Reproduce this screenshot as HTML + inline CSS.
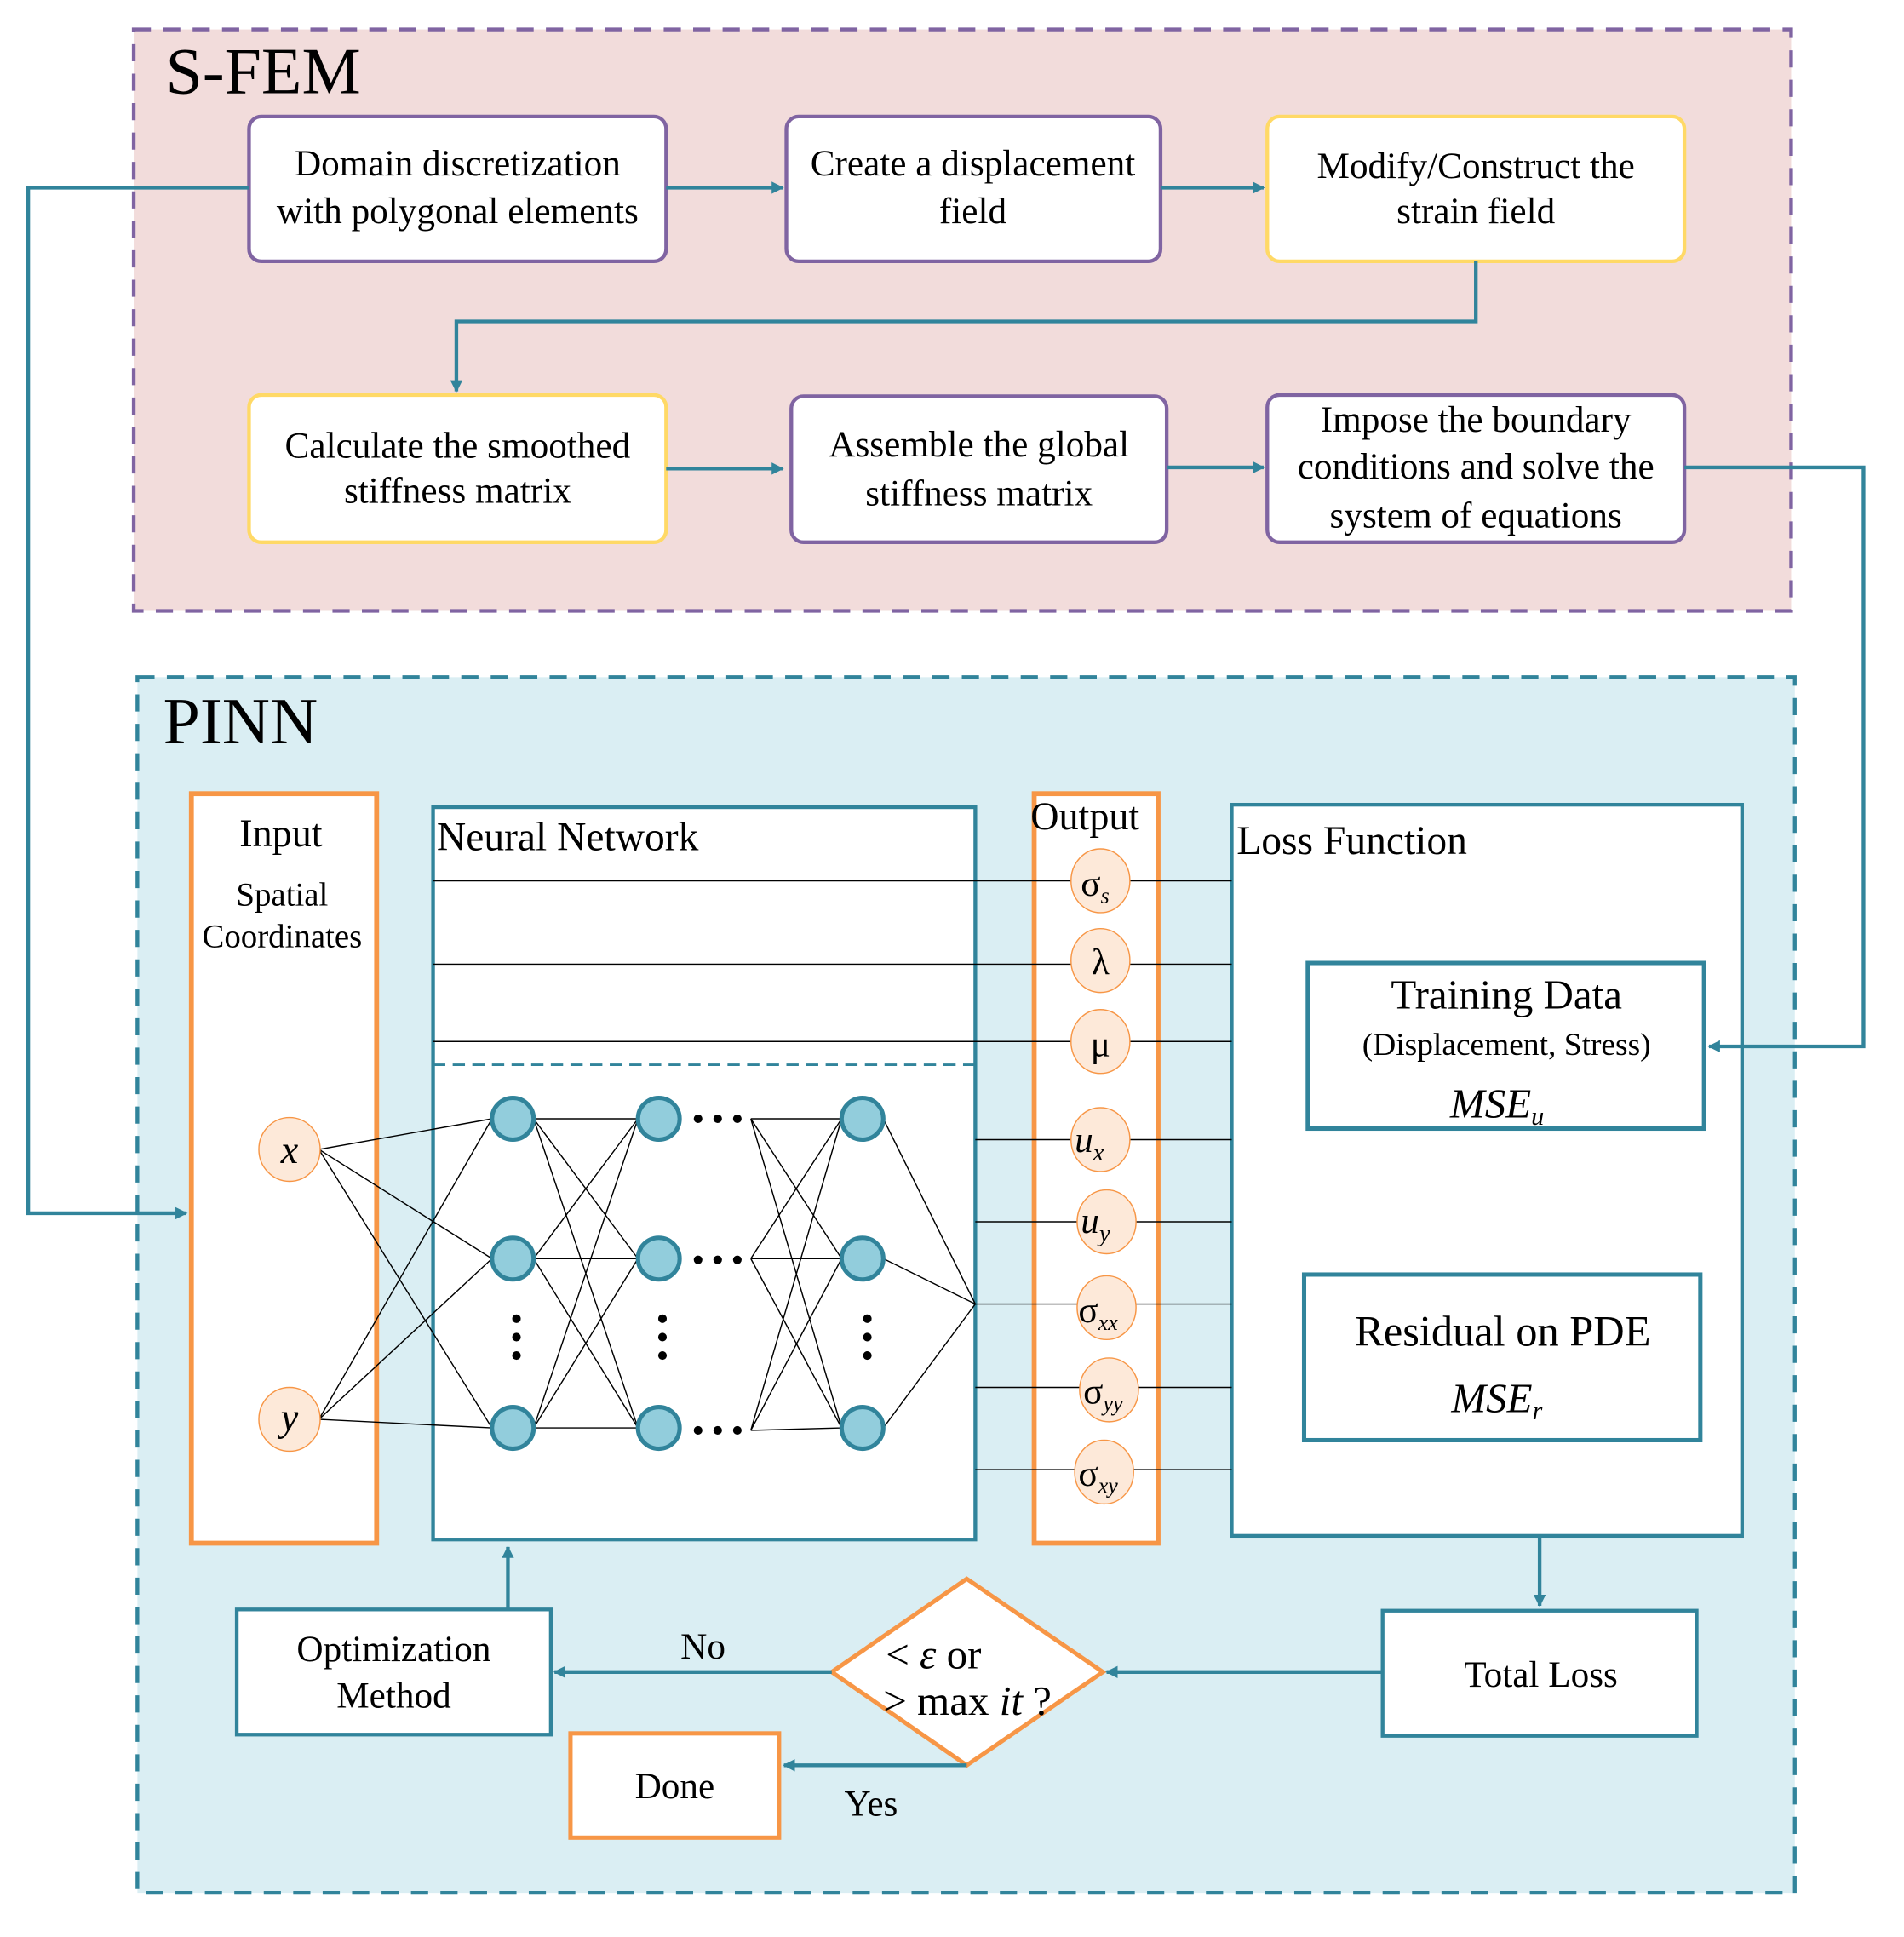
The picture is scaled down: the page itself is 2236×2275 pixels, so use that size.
<!DOCTYPE html>
<html><head><meta charset="utf-8"><style>html,body{margin:0;padding:0;background:#fff}svg{display:block}text{font-family:"Liberation Serif",serif;fill:#000}</style></head><body>
<svg width="2236" height="2275" viewBox="0 0 1552 1579" preserveAspectRatio="none" xmlns="http://www.w3.org/2000/svg">
<defs>
<marker id="a" markerWidth="10" markerHeight="10" refX="9" refY="5" orient="auto" markerUnits="userSpaceOnUse" viewBox="0 0 10 10"><path d="M0,0 L10,5 L0,10 Z" fill="#31849B"/></marker>
</defs>
<!-- S-FEM -->
<rect x="109" y="24" width="1351" height="474" fill="#F2DCDB" stroke="#8064A2" stroke-width="3" stroke-dasharray="14,10"/>
<text x="135" y="76" font-size="54">S-FEM</text>
<g fill="#fff" stroke-width="3">
<rect x="203" y="95" width="340" height="118" rx="10" stroke="#8064A2"/>
<rect x="641" y="95" width="305" height="118" rx="10" stroke="#8064A2"/>
<rect x="1033" y="95" width="340" height="118" rx="10" stroke="#FFD966"/>
<rect x="203" y="322" width="340" height="120" rx="10" stroke="#FFD966"/>
<rect x="645" y="323" width="306" height="119" rx="10" stroke="#8064A2"/>
<rect x="1033" y="322" width="340" height="120" rx="10" stroke="#8064A2"/>
</g>
<g font-size="30" text-anchor="middle">
<text x="373" y="143">Domain discretization</text><text x="373" y="182">with polygonal elements</text>
<text x="793" y="143">Create a displacement</text><text x="793" y="182">field</text>
<text x="1203" y="145">Modify/Construct the</text><text x="1203" y="182">strain field</text>
<text x="373" y="373">Calculate the smoothed</text><text x="373" y="410">stiffness matrix</text>
<text x="798" y="372">Assemble the global</text><text x="798" y="412">stiffness matrix</text>
<text x="1203" y="352">Impose the boundary</text><text x="1203" y="390">conditions and solve the</text><text x="1203" y="430">system of equations</text>
</g>
<!-- PINN -->
<rect x="112" y="552" width="1351" height="991" fill="#DAEEF3" stroke="#31849B" stroke-width="3" stroke-dasharray="14,10"/>
<text x="133" y="606" font-size="54">PINN</text>
<!-- boxes -->
<rect x="156" y="647" width="151" height="611" fill="#fff" stroke="#F79646" stroke-width="4"/>
<rect x="353" y="658" width="442" height="597" fill="#fff" stroke="#31849B" stroke-width="3"/>
<rect x="843" y="647" width="101" height="611" fill="#fff" stroke="#F79646" stroke-width="4"/>
<rect x="1004" y="656" width="416" height="596" fill="#fff" stroke="#31849B" stroke-width="3"/>
<rect x="1066" y="785" width="323" height="135" fill="#fff" stroke="#31849B" stroke-width="3.5"/>
<rect x="1063" y="1039" width="323" height="135" fill="#fff" stroke="#31849B" stroke-width="3.5"/>
<rect x="1127" y="1313" width="256" height="102" fill="#fff" stroke="#31849B" stroke-width="3"/>
<rect x="193" y="1312" width="256" height="102" fill="#fff" stroke="#31849B" stroke-width="3"/>
<rect x="465" y="1413" width="170" height="85" fill="#fff" stroke="#F79646" stroke-width="3.5"/>
<path d="M788 1287 L899 1363 L788 1439 L678 1363 Z" fill="#fff" stroke="#F79646" stroke-width="3.5"/>
<line x1="353" y1="868" x2="795" y2="868" stroke="#31849B" stroke-width="2" stroke-dasharray="10,6"/>
<!-- arrows -->
<g stroke="#31849B" stroke-width="3" fill="none">
<path d="M543 153 H638" marker-end="url(#a)"/>
<path d="M946 153 H1030" marker-end="url(#a)"/>
<path d="M1203 213 V262 H372 V319" marker-end="url(#a)"/>
<path d="M543 382 H638" marker-end="url(#a)"/>
<path d="M951 381 H1030" marker-end="url(#a)"/>
<path d="M1373 381 H1519 V853 H1393" marker-end="url(#a)"/>
<path d="M203 153 H23 V989 H152" marker-end="url(#a)"/>
<path d="M1255 1252 V1309" marker-end="url(#a)"/>
<path d="M1127 1363 H902" marker-end="url(#a)"/>
<path d="M678 1363 H452" marker-end="url(#a)"/>
<path d="M414 1312 V1261" marker-end="url(#a)"/>
<path d="M788 1439 H639" marker-end="url(#a)"/>
</g>
<!-- thin lines -->
<g stroke="#000" stroke-width="1" fill="none">
<path d="M353 718 H1004 M353 786 H1004 M353 849 H1004"/>
<path d="M795 929 H1004 M795 996 H1004 M795 1063 H1004 M795 1131 H1004 M795 1198 H1004"/>
<path d="M260 937 L401 912 M260 937 L401 1026 M260 937 L401 1164 M260 1157 L401 912 M260 1157 L401 1026 M260 1157 L401 1164"/>
<path d="M435 912 L520 912 M435 912 L520 1026 M435 912 L520 1164 M435 1026 L520 912 M435 1026 L520 1026 M435 1026 L520 1164 M435 1164 L520 912 M435 1164 L520 1026 M435 1164 L520 1164"/>
<path d="M612 912 L686 912 M612 912 L686 1026 M612 912 L686 1164 M612 1026 L686 912 M612 1026 L686 1026 M612 1026 L686 1164 M612 1166 L686 912 M612 1166 L686 1026 M612 1166 L686 1164"/>
<path d="M720 912 L795 1063 M720 1026 L795 1063 M720 1164 L795 1063"/>
</g>
<g fill="#92CDDC" stroke="#31849B" stroke-width="3.5">
<circle cx="418" cy="912" r="17"/><circle cx="418" cy="1026" r="17"/><circle cx="418" cy="1164" r="17"/>
<circle cx="537" cy="912" r="17"/><circle cx="537" cy="1026" r="17"/><circle cx="537" cy="1164" r="17"/>
<circle cx="703" cy="912" r="17"/><circle cx="703" cy="1026" r="17"/><circle cx="703" cy="1164" r="17"/>
</g>
<g fill="#000">
<circle cx="569" cy="912" r="3.5"/><circle cx="585" cy="912" r="3.5"/><circle cx="601" cy="912" r="3.5"/>
<circle cx="569" cy="1027" r="3.5"/><circle cx="585" cy="1027" r="3.5"/><circle cx="601" cy="1027" r="3.5"/>
<circle cx="569" cy="1166" r="3.5"/><circle cx="585" cy="1166" r="3.5"/><circle cx="601" cy="1166" r="3.5"/>
<circle cx="421" cy="1075" r="3.5"/><circle cx="421" cy="1090" r="3.5"/><circle cx="421" cy="1105" r="3.5"/>
<circle cx="540" cy="1075" r="3.5"/><circle cx="540" cy="1090" r="3.5"/><circle cx="540" cy="1105" r="3.5"/>
<circle cx="707" cy="1075" r="3.5"/><circle cx="707" cy="1090" r="3.5"/><circle cx="707" cy="1105" r="3.5"/>
</g>
<g fill="#FDE9D9" stroke="#F79646" stroke-width="1">
<ellipse cx="236" cy="937" rx="25" ry="26"/><ellipse cx="236" cy="1157" rx="25" ry="26"/>
<ellipse cx="897" cy="718" rx="24" ry="26"/><ellipse cx="897" cy="783" rx="24" ry="26"/><ellipse cx="897" cy="849" rx="24" ry="26"/>
<ellipse cx="897" cy="929" rx="24" ry="26"/><ellipse cx="902" cy="996" rx="24" ry="26"/><ellipse cx="902" cy="1066" rx="24" ry="26"/>
<ellipse cx="904" cy="1133" rx="24" ry="26"/><ellipse cx="900" cy="1200" rx="24" ry="26"/>
</g>
<g font-size="30">
<text x="229" y="690" text-anchor="middle" font-size="32">Input</text>
<text x="230" y="738" text-anchor="middle" font-size="27">Spatial</text>
<text x="230" y="772" text-anchor="middle" font-size="27">Coordinates</text>
<text x="356" y="693" font-size="33">Neural Network</text>
<text x="840" y="676" font-size="32">Output</text>
<text x="1008" y="696" font-size="33">Loss Function</text>
<text x="236" y="948" text-anchor="middle" font-style="italic" font-size="32">x</text>
<text x="236" y="1166" text-anchor="middle" font-style="italic" font-size="32">y</text>
<text x="881" y="730">σ<tspan font-size="18" font-style="italic" dy="6">s</tspan></text>
<text x="897" y="794" text-anchor="middle">λ</text>
<text x="897" y="861" text-anchor="middle">μ</text>
<text x="876" y="939" font-style="italic">u<tspan font-size="20" dy="7">x</tspan></text>
<text x="881" y="1005" font-style="italic">u<tspan font-size="20" dy="7">y</tspan></text>
<text x="879" y="1078">σ<tspan font-size="18" font-style="italic" dy="6">xx</tspan></text>
<text x="883" y="1144">σ<tspan font-size="18" font-style="italic" dy="6">yy</tspan></text>
<text x="879" y="1211">σ<tspan font-size="18" font-style="italic" dy="6">xy</tspan></text>
<text x="1228" y="822" text-anchor="middle" font-size="34">Training Data</text>
<text x="1228" y="860" text-anchor="middle" font-size="26">(Displacement, Stress)</text>
<text x="1182" y="911" font-style="italic" font-size="34">MSE<tspan font-size="21" dy="6">u</tspan></text>
<text x="1225" y="1097" text-anchor="middle" font-size="35">Residual on PDE</text>
<text x="1183" y="1151" font-style="italic" font-size="34">MSE<tspan font-size="21" dy="6">r</tspan></text>
<text x="1256" y="1375" text-anchor="middle">Total Loss</text>
<text x="321" y="1354" text-anchor="middle">Optimization</text>
<text x="321" y="1392" text-anchor="middle">Method</text>
<text x="550" y="1466" text-anchor="middle">Done</text>
<text x="573" y="1352" text-anchor="middle">No</text>
<text x="710" y="1480" text-anchor="middle">Yes</text>
<text x="722" y="1360" font-size="34">&lt; <tspan font-style="italic">ε</tspan>  or</text>
<text x="720" y="1398" font-size="34">&gt; max <tspan font-style="italic">it</tspan> ?</text>
</g>
</svg>
</body></html>
